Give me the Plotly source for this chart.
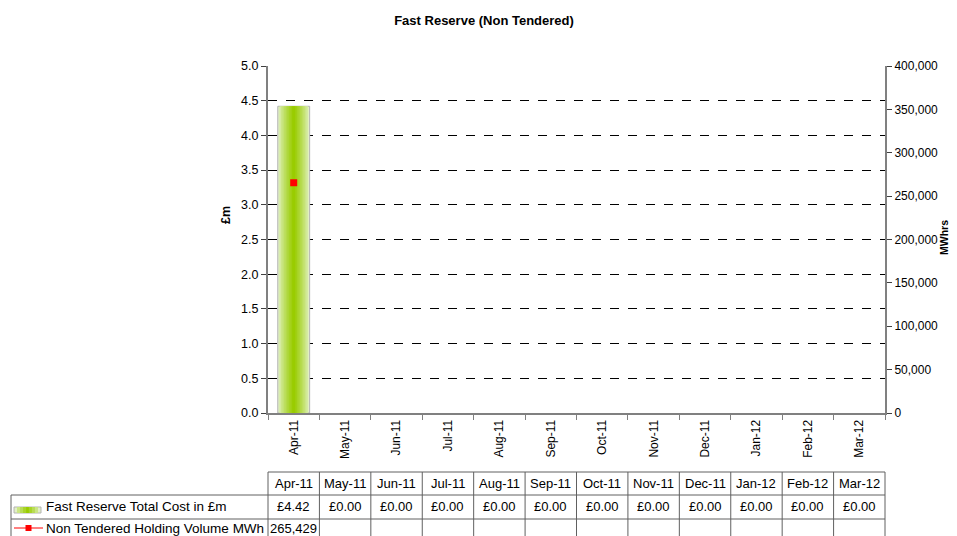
import plotly.graph_objects as go

months = ["Apr-11", "May-11", "Jun-11", "Jul-11", "Aug-11", "Sep-11",
          "Oct-11", "Nov-11", "Dec-11", "Jan-12", "Feb-12", "Mar-12"]
cost_m = [4.42, 0.0, 0.0, 0.0, 0.0, 0.0, 0.0, 0.0, 0.0, 0.0, 0.0, 0.0]
volume_mwh = [265429, None, None, None, None, None, None, None, None, None, None, None]

cost_label = "Fast Reserve Total Cost in £m"
volume_label = "Non Tendered Holding Volume MWh"

W, H = 957, 536
OFF = 8  # page body margin
L, R, T, B = 268, 885, 66, 413  # plot area in screen pixels
FONT = "Liberation Sans, Arial, sans-serif"


def px(x):
    return (x - L) / (R - L)


def py(y):
    return (B - y) / (B - T)


def mix(c1, c2, t):
    return "rgb(%d,%d,%d)" % tuple(round(a + (b - a) * t) for a, b in zip(c1, c2))


light = (226, 241, 196)
dark = (153, 204, 0)

fig = go.Figure()

# gradient bar: overlays of narrowing width
n_layers = 10
for i in range(n_layers):
    t = i / (n_layers - 1)
    w = 0.62 * (1 - t) + 0.06 * t
    outline = ["#b4b4b4" if (i == 0 and v > 0) else "rgba(0,0,0,0)" for v in cost_m]
    fig.add_trace(go.Bar(
        x=months, y=cost_m, width=w,
        marker=dict(color=mix(light, dark, t ** 0.8), line=dict(color=outline, width=1 if i == 0 else 0)),
        showlegend=False, name=cost_label,
    ))

fig.add_trace(go.Scatter(
    x=months, y=volume_mwh, yaxis="y2", mode="lines+markers", name=volume_label,
    line=dict(color="#ff0000", width=1),
    marker=dict(symbol="square", size=7, color="#ff0000"),
    showlegend=False,
))

axis_col = "#808080"
fig.update_layout(
    width=W, height=H,
    margin=dict(l=L - OFF, r=W - (R - OFF), t=T - OFF, b=H - (B - OFF)),
    paper_bgcolor="white", plot_bgcolor="white",
    font=dict(family=FONT, size=12.5, color="black"),
    barmode="overlay",
    showlegend=False,
    title=dict(text="<b>Fast Reserve (Non Tendered)</b>", x=px(484), xref="paper", xanchor="center",
               y=1 - (20 - OFF) / H, yref="container", yanchor="middle", font=dict(size=13)),
    xaxis=dict(type="category", range=[-0.5, 11.5], tickangle=-90, ticks="outside", ticklen=5,
               tickson="boundaries", tickcolor=axis_col, showline=True, linecolor=axis_col,
               linewidth=2, showgrid=False, tickfont=dict(size=12)),
    yaxis=dict(range=[0, 5], dtick=0.5, tickformat=".1f", ticks="outside", ticklen=5,
               tickcolor="#404040", showline=True, linecolor=axis_col, linewidth=2,
               showgrid=True, gridcolor="black", griddash="dash", gridwidth=1, zeroline=False),
    yaxis2=dict(range=[0, 400000], dtick=50000, tickformat=",", overlaying="y", side="right",
                ticks="outside", ticklen=5, tickcolor="#404040", showline=True,
                linecolor=axis_col, linewidth=2, showgrid=False, zeroline=False,
                tickfont=dict(size=12)),
)

annotations = [
    dict(text="<b>£m</b>", x=px(226), y=py(215), textangle=-90, font=dict(size=12.5)),
    dict(text="<b>MWhrs</b>", x=px(944), y=py(238), textangle=-90, font=dict(size=10.5)),
]

# data table below the chart
shapes = []
line = dict(color="#606060", width=1)
rows_y = [472, 495, 519, 542]
label_left = 11
col_w = (R - L) / len(months)
col_x = [L + i * col_w for i in range(len(months) + 1)]

shapes.append(dict(type="line", x0=px(L), x1=px(R), y0=py(rows_y[0]), y1=py(rows_y[0])))
for yy in rows_y[1:]:
    shapes.append(dict(type="line", x0=px(label_left), x1=px(R), y0=py(yy), y1=py(yy)))
for cx in col_x:
    shapes.append(dict(type="line", x0=px(cx), x1=px(cx), y0=py(rows_y[0]), y1=py(rows_y[3])))
shapes.append(dict(type="line", x0=px(label_left), x1=px(label_left), y0=py(rows_y[1]), y1=py(rows_y[3])))
for s in shapes:
    s.update(xref="paper", yref="paper", line=line)

for i, m in enumerate(months):
    cx = px(L + (i + 0.5) * col_w)
    annotations.append(dict(text=m, x=cx, y=py((rows_y[0] + rows_y[1]) / 2), font=dict(size=13)))
    annotations.append(dict(text="£%.2f" % cost_m[i], x=cx, y=py((rows_y[1] + rows_y[2]) / 2), font=dict(size=13)))
    if volume_mwh[i] is not None:
        annotations.append(dict(text=f"{volume_mwh[i]:,}", x=cx, y=py((rows_y[2] + rows_y[3]) / 2 - 2),
                                font=dict(size=13)))

annotations.append(dict(text=cost_label, x=px(44), y=py((rows_y[1] + rows_y[2]) / 2), xanchor="left",
                        font=dict(size=13.5)))
annotations.append(dict(text=volume_label, x=px(44), y=py((rows_y[2] + rows_y[3]) / 2 - 2), xanchor="left",
                        font=dict(size=13.5)))

# legend keys in the table
for i in range(5):
    t = i / 4
    x0 = 14 + 13.5 * t * 0.9
    x1 = 41 - 13.5 * t * 0.9
    shapes.append(dict(type="rect", xref="paper", yref="paper", x0=px(x0), x1=px(x1), y0=py(513), y1=py(507),
                       fillcolor=mix(light, dark, t ** 0.8),
                       line=dict(color="#b4b4b4" if i == 0 else "rgba(0,0,0,0)", width=1 if i == 0 else 0)))
shapes.append(dict(type="line", xref="paper", yref="paper", x0=px(14), x1=px(43), y0=py(528), y1=py(528),
                   line=dict(color="#ff0000", width=1)))
shapes.append(dict(type="rect", xref="paper", yref="paper", x0=px(25.5), x1=px(31.5), y0=py(531), y1=py(525),
                   fillcolor="#ff0000", line=dict(width=0)))

for a in annotations:
    a.setdefault("xref", "paper")
    a.setdefault("yref", "paper")
    a.setdefault("xanchor", "center")
    a.setdefault("yanchor", "middle")
    a.setdefault("showarrow", False)

fig.update_layout(shapes=shapes, annotations=annotations)

fig.write_html("out.html")
